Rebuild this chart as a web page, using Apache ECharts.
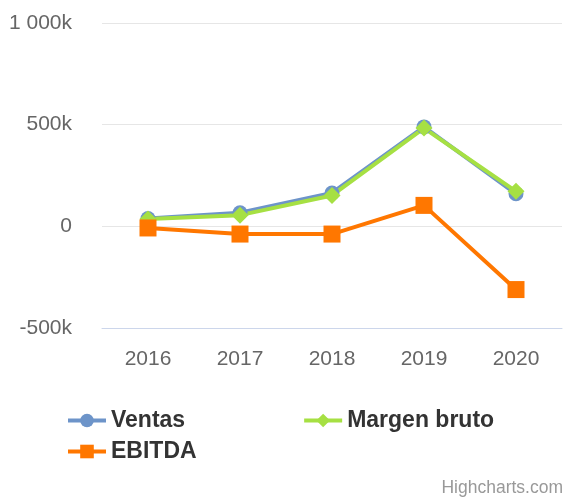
<!DOCTYPE html>
<html>
<head>
    <meta charset="utf-8">
    <title>ECharts</title>
    <script src="https://cdn.jsdelivr.net/npm/echarts@6/dist/echarts.min.js"></script>
    <style>
        html, body { margin: 0; padding: 0; background: #fff; }
    </style>
</head>
<body>
    <div id="main" style="width: 563px;height:497px;"></div>
    <script type="text/javascript">
    // data
    var years = ['2016', '2017', '2018', '2019', '2020'];
    var ventas = [38000, 67000, 164000, 489000, 160000];
    var margenBruto = [36000, 55000, 152000, 483000, 172000];
    var ebitda = [-8000, -38000, -38000, 103000, -311000];

    var font = '"Liberation Sans", Arial, sans-serif';

    var myChart = echarts.init(document.getElementById('main'));

    function fmt(v) {
        if (v === 0) return '0';
        var k = Math.round(v / 1000);
        var s = String(Math.abs(k)).replace(/\B(?=(\d{3})+(?!\d))/g, ' ');
        return (k < 0 ? '-' : '') + s + 'k';
    }

    var legendText = { fontFamily: font, fontSize: 23, fontWeight: 'bold', color: '#333' };

    var option = {
        animation: false,
        textStyle: { fontFamily: font },
        grid: { left: 102, right: 1, top: 23, bottom: 169 },
        legend: [
            {
                data: ['Ventas', 'Margen bruto'],
                left: 61, top: 404,
                itemWidth: 38, itemHeight: 17, itemGap: 117,
                lineStyle: { width: 4 },
                textStyle: legendText
            },
            {
                data: ['EBITDA'],
                left: 61, top: 435,
                itemWidth: 38, itemHeight: 17,
                lineStyle: { width: 4 },
                textStyle: legendText
            }
        ],
        xAxis: {
            type: 'category',
            data: years,
            boundaryGap: true,
            axisLine: { onZero: false, lineStyle: { color: '#ccd6eb', width: 1 } },
            axisTick: { show: false },
            axisLabel: { color: '#666', fontSize: 21, margin: 21, fontFamily: font }
        },
        yAxis: {
            type: 'value',
            min: -500000,
            max: 1000000,
            interval: 500000,
            axisLine: { show: false },
            axisTick: { show: false },
            splitLine: { lineStyle: { color: '#e6e6e6', width: 1 } },
            axisLabel: { color: '#666', fontSize: 21, margin: 30, fontFamily: font, formatter: fmt }
        },
        series: [
            {
                name: 'Ventas',
                type: 'line',
                data: ventas,
                symbol: 'circle',
                symbolSize: 15,
                itemStyle: { color: '#6d94c9' },
                lineStyle: { width: 4, color: '#6d94c9' }
            },
            {
                name: 'Margen bruto',
                type: 'line',
                data: margenBruto,
                symbol: 'diamond',
                symbolSize: 17,
                itemStyle: { color: '#a6e043' },
                lineStyle: { width: 4, color: '#a6e043' }
            },
            {
                name: 'EBITDA',
                type: 'line',
                data: ebitda,
                symbol: 'rect',
                symbolSize: 17,
                itemStyle: { color: '#ff7700' },
                lineStyle: { width: 4, color: '#ff7700' }
            }
        ],
        graphic: [
            {
                type: 'text',
                right: 0,
                top: 479,
                style: { text: 'Highcharts.com', fill: '#999', fontSize: 17.5, fontFamily: font }
            }
        ]
    };

    myChart.setOption(option);
    </script>
</body>
</html>
